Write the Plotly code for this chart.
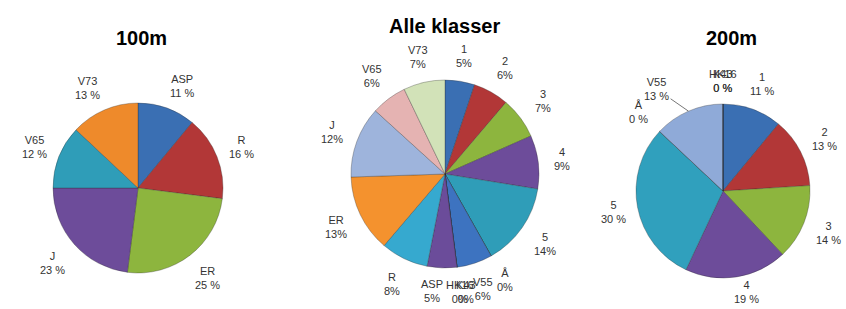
import math
import plotly.graph_objects as go

# 100m
labels_100 = ["ASP", "R", "ER", "J", "V65", "V73"]
values_100 = [11, 16, 25, 23, 12, 13]
colors_100 = ["#3A6FB3", "#B23737", "#8DB53E", "#6D4C9A", "#2F9DB8", "#EE8A2B"]

# Alle klasser
labels_all = ["1", "2", "3", "4", "5", "Å", "V55", "HK16", "K43", "ASP", "R", "ER", "J", "V65", "V73"]
values_all = [5, 6, 7, 9, 14, 0, 6, 0, 0, 5, 8, 13, 12, 6, 7]
colors_all = ["#3A6FB3", "#B23737", "#8DB53E", "#6D4C9A", "#2F9DB8", "#EE8A2B",
              "#3D73C0", "#C0504D", "#9BBB59", "#6B4C9A", "#36A9CF", "#F4922E",
              "#9EB4DC", "#E5B3B2", "#D2E2B8"]

# 200m
labels_200 = ["1", "2", "3", "4", "5", "Å", "V55", "HK16", "K43"]
values_200 = [11, 13, 14, 19, 30, 0, 13, 0, 0]
colors_200 = ["#3A6FB3", "#B23737", "#8DB53E", "#6D4C9A", "#30A0BD", "#EE8A2B",
              "#8FAAD8", "#C0504D", "#9BBB59"]

titles = ["100m", "Alle klasser", "200m"]

W, H = 846, 309
FONT = "'Liberation Sans', Arial, sans-serif"
line = dict(color="rgba(40,40,40,0.3)", width=1)

# pie geometry (centre x, centre y, radius in px), label suffix, title position
pies = [
    dict(labels=labels_100, values=values_100, colors=colors_100, cx=138, cy=188, r=85,
         suffix=" %", title=(141, 38)),
    dict(labels=labels_all, values=values_all, colors=colors_all, cx=445, cy=174, r=94,
         suffix="%", title=(444, 26)),
    dict(labels=labels_200, values=values_200, colors=colors_200, cx=723, cy=191, r=87,
         suffix=" %", title=(731, 38)),
]
# small label nudges (px) where the original layout moved crowded labels
nudges = {
    (0, "ASP"): (6, 3), (0, "V73"): (-6, 3),
    (1, "ASP"): (-9, 0), (1, "K43"): (6, 0),
    (2, "V55"): (-21, 3), (2, "4"): (6, -10),
}
# labels that get a leader line to their slice
leaders = {(2, "V55")}

fig = go.Figure()
for k, p in enumerate(pies):
    cx, cy, r = p["cx"], p["cy"], p["r"]
    fig.add_trace(go.Pie(
        labels=p["labels"], values=p["values"], sort=False, direction="clockwise", rotation=0,
        marker=dict(colors=p["colors"], line=line),
        textinfo="none", showlegend=False, hoverinfo="label+value",
        domain=dict(x=[(cx - r) / W, (cx + r) / W], y=[(H - cy - r) / H, (H - cy + r) / H]),
    ))
    total = sum(p["values"])
    cum = 0
    for lab, v in zip(p["labels"], p["values"]):
        a = (cum + v / 2) / total * 2 * math.pi
        cum += v
        s, c = math.sin(a), math.cos(a)
        d = r + 8 + abs(s) * 14 + abs(c) * 15
        x = cx + d * s
        y = cy - d * c
        dx, dy = nudges.get((k, lab), (0, 0))
        x += dx
        y += dy
        text = "%s<br>%d%s" % (lab, v, p["suffix"])
        font = dict(family=FONT, size=11, color="#333")
        if (k, lab) in leaders:
            ex, ey = cx + r * s, cy - r * c
            fig.add_annotation(text=text, x=ex / W, y=1 - ey / H, xref="paper", yref="paper",
                               showarrow=True, arrowhead=0, arrowwidth=1, arrowcolor="#777",
                               ax=x - ex, ay=y - ey, align="center", font=font)
        else:
            fig.add_annotation(text=text, x=x / W, y=1 - y / H,
                               xref="paper", yref="paper", showarrow=False,
                               xanchor="center", yanchor="middle", align="center", font=font)
    tx, ty = p["title"]
    fig.add_annotation(text="<b>%s</b>" % titles[k], x=tx / W, y=1 - ty / H,
                       xref="paper", yref="paper", showarrow=False,
                       xanchor="center", yanchor="middle",
                       font=dict(family=FONT, size=20, color="#000"))

fig.update_layout(width=W, height=H, margin=dict(l=0, r=0, t=0, b=0),
                  paper_bgcolor="white", plot_bgcolor="white")
fig.write_html("out.html")
